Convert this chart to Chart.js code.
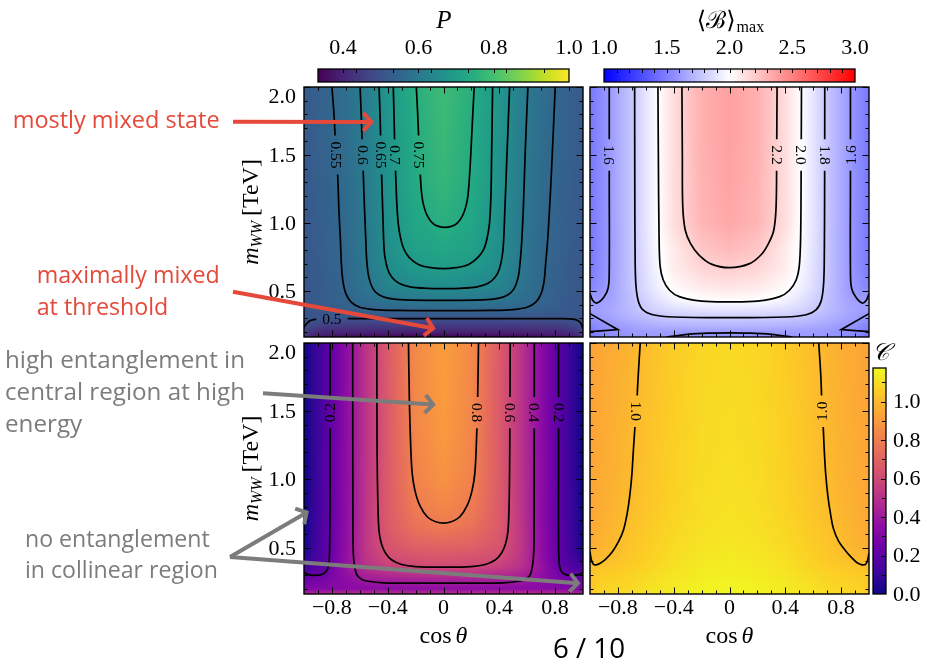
<!DOCTYPE html>
<html>
<head>
<meta charset="utf-8">
<script src="https://cdn.jsdelivr.net/npm/chart.js@4.4.1/dist/chart.umd.min.js"></script>
<style>
  html, body { margin: 0; padding: 0; background: #ffffff; }
  #stage { position: relative; width: 926px; height: 662px; overflow: hidden; background: #ffffff; }
  #stage canvas { position: absolute; left: 0; top: 0; }
</style>
</head>
<body>
<div id="stage"></div>
<script>
// ---------------------------------------------------------------------------
// Sampling grid shared by all four maps
// ---------------------------------------------------------------------------
const cosTheta = [-1, -0.95, -0.85, -0.7, -0.55, -0.4, -0.2, 0, 0.2, 0.4, 0.55, 0.7, 0.85, 0.95, 1];
const mWW = [0.161, 0.2, 0.25, 0.3, 0.36, 0.43, 0.52, 0.66, 0.8, 1.0, 1.3, 1.65, 2.0];

// Purity P (rows follow mWW, columns follow cosTheta)
const purity = [
  [0.44,0.40,0.37,0.355,0.35,0.345,0.34,0.338,0.34,0.345,0.35,0.355,0.37,0.40,0.44],
  [0.47,0.43,0.41,0.405,0.40,0.40,0.40,0.40,0.40,0.40,0.40,0.405,0.41,0.43,0.47],
  [0.51,0.48,0.46,0.455,0.452,0.45,0.45,0.45,0.45,0.45,0.452,0.455,0.46,0.48,0.51],
  [0.512,0.508,0.506,0.505,0.504,0.504,0.503,0.503,0.503,0.504,0.504,0.505,0.506,0.508,0.512],
  [0.512,0.514,0.52,0.532,0.542,0.547,0.55,0.552,0.55,0.547,0.542,0.532,0.52,0.514,0.512],
  [0.512,0.515,0.526,0.548,0.572,0.59,0.598,0.601,0.598,0.59,0.572,0.548,0.526,0.515,0.512],
  [0.512,0.517,0.529,0.553,0.59,0.625,0.643,0.651,0.643,0.625,0.59,0.553,0.529,0.517,0.512],
  [0.512,0.518,0.532,0.557,0.598,0.652,0.685,0.70,0.685,0.652,0.598,0.557,0.532,0.518,0.512],
  [0.513,0.52,0.534,0.559,0.602,0.66,0.71,0.727,0.71,0.66,0.602,0.559,0.534,0.52,0.513],
  [0.515,0.523,0.537,0.561,0.604,0.664,0.726,0.752,0.726,0.664,0.604,0.561,0.537,0.523,0.515],
  [0.518,0.526,0.54,0.566,0.609,0.671,0.74,0.77,0.74,0.671,0.609,0.566,0.54,0.526,0.518],
  [0.52,0.528,0.545,0.57,0.613,0.675,0.743,0.78,0.743,0.675,0.613,0.57,0.545,0.528,0.52],
  [0.52,0.527,0.542,0.575,0.618,0.68,0.75,0.787,0.75,0.68,0.618,0.575,0.542,0.527,0.52]
];

// Maximal Bell expectation <B>_max
const bellMax = [
  [1.45,1.50,1.55,1.59,1.61,1.585,1.57,1.565,1.57,1.585,1.61,1.59,1.55,1.50,1.45],
  [1.48,1.52,1.56,1.60,1.62,1.62,1.62,1.62,1.62,1.62,1.62,1.60,1.56,1.52,1.48],
  [1.52,1.55,1.60,1.65,1.69,1.71,1.72,1.72,1.72,1.71,1.69,1.65,1.60,1.55,1.52],
  [1.58,1.60,1.64,1.70,1.75,1.78,1.79,1.795,1.79,1.78,1.75,1.70,1.64,1.60,1.58],
  [1.63,1.62,1.66,1.74,1.82,1.87,1.89,1.90,1.89,1.87,1.82,1.74,1.66,1.62,1.63],
  [1.63,1.61,1.64,1.75,1.86,1.95,2.0,2.01,2.0,1.95,1.86,1.75,1.64,1.61,1.63],
  [1.52,1.56,1.62,1.77,1.91,2.02,2.08,2.10,2.08,2.02,1.91,1.77,1.62,1.56,1.52],
  [1.48,1.53,1.615,1.775,1.93,2.07,2.16,2.19,2.16,2.07,1.93,1.775,1.615,1.53,1.48],
  [1.47,1.52,1.613,1.775,1.945,2.08,2.22,2.27,2.22,2.08,1.945,1.775,1.613,1.52,1.47],
  [1.47,1.52,1.613,1.778,1.956,2.13,2.29,2.34,2.29,2.13,1.956,1.778,1.613,1.52,1.47],
  [1.47,1.52,1.613,1.778,1.956,2.131,2.30,2.36,2.30,2.131,1.956,1.778,1.613,1.52,1.47],
  [1.47,1.52,1.613,1.778,1.956,2.131,2.31,2.37,2.31,2.131,1.956,1.778,1.613,1.52,1.47],
  [1.47,1.52,1.613,1.778,1.956,2.131,2.31,2.37,2.31,2.131,1.956,1.778,1.613,1.52,1.47]
];

// Concurrence, lower-left map
const concurrenceLow = [
  [0.45,0.46,0.48,0.50,0.50,0.50,0.50,0.50,0.50,0.50,0.50,0.50,0.48,0.46,0.45],
  [0.30,0.31,0.32,0.33,0.34,0.345,0.35,0.35,0.35,0.345,0.34,0.33,0.32,0.31,0.30],
  [0.25,0.27,0.29,0.34,0.39,0.40,0.41,0.415,0.41,0.40,0.39,0.34,0.29,0.27,0.25],
  [0.20,0.22,0.26,0.36,0.44,0.47,0.49,0.50,0.49,0.47,0.44,0.36,0.26,0.22,0.20],
  [0.12,0.15,0.20,0.38,0.50,0.56,0.59,0.60,0.59,0.56,0.50,0.38,0.20,0.15,0.12],
  [0.05,0.10,0.19,0.36,0.52,0.61,0.64,0.65,0.64,0.61,0.52,0.36,0.19,0.10,0.05],
  [0.02,0.08,0.18,0.355,0.53,0.645,0.695,0.71,0.695,0.645,0.53,0.355,0.18,0.08,0.02],
  [0.0,0.07,0.175,0.35,0.525,0.665,0.76,0.79,0.76,0.665,0.525,0.35,0.175,0.07,0.0],
  [0.0,0.065,0.17,0.345,0.52,0.67,0.79,0.83,0.79,0.67,0.52,0.345,0.17,0.065,0.0],
  [0.0,0.06,0.167,0.343,0.518,0.67,0.815,0.87,0.815,0.67,0.518,0.343,0.167,0.06,0.0],
  [0.0,0.06,0.165,0.342,0.515,0.664,0.83,0.895,0.83,0.664,0.515,0.342,0.165,0.06,0.0],
  [0.0,0.06,0.165,0.342,0.515,0.665,0.835,0.905,0.835,0.665,0.515,0.342,0.165,0.06,0.0],
  [0.0,0.06,0.165,0.342,0.516,0.668,0.84,0.91,0.84,0.668,0.516,0.342,0.165,0.06,0.0]
];

// Concurrence, lower-right map
const concurrenceHigh = [
  [1.03,1.07,1.08,1.095,1.12,1.14,1.16,1.17,1.16,1.14,1.12,1.095,1.08,1.07,1.03],
  [1.035,1.065,1.075,1.09,1.115,1.135,1.155,1.165,1.155,1.135,1.115,1.09,1.075,1.065,1.035],
  [1.035,1.055,1.065,1.08,1.105,1.13,1.15,1.16,1.15,1.13,1.105,1.08,1.065,1.055,1.035],
  [1.03,1.045,1.055,1.07,1.095,1.12,1.14,1.15,1.14,1.12,1.095,1.07,1.055,1.045,1.03],
  [1.015,1.025,1.035,1.055,1.08,1.11,1.135,1.145,1.135,1.11,1.08,1.055,1.035,1.025,1.015],
  [0.99,0.995,1.01,1.04,1.07,1.10,1.125,1.135,1.125,1.10,1.07,1.04,1.01,0.995,0.99],
  [0.955,0.975,0.995,1.03,1.06,1.09,1.115,1.125,1.115,1.09,1.06,1.03,0.995,0.975,0.955],
  [0.945,0.96,0.985,1.02,1.05,1.08,1.105,1.115,1.105,1.08,1.05,1.02,0.985,0.96,0.945],
  [0.94,0.955,0.975,1.01,1.04,1.07,1.10,1.11,1.10,1.07,1.04,1.01,0.975,0.955,0.94],
  [0.94,0.95,0.97,1.0,1.035,1.065,1.095,1.105,1.095,1.065,1.035,1.0,0.97,0.95,0.94],
  [0.935,0.945,0.965,0.995,1.03,1.06,1.09,1.10,1.09,1.06,1.03,0.995,0.965,0.945,0.935],
  [0.93,0.94,0.96,0.99,1.025,1.055,1.085,1.095,1.085,1.055,1.025,0.99,0.96,0.94,0.93],
  [0.93,0.94,0.955,0.985,1.02,1.05,1.08,1.09,1.08,1.05,1.02,0.985,0.955,0.94,0.93]
];

// Iso-lines as [cosθ, mWW] polylines
const purityContours = [
  { level: 0.75, lines: [[[-0.195,2.0],[-0.185,1.8],[-0.175,1.55],[-0.165,1.33],[-0.155,1.2],[-0.14,1.12],[-0.115,1.05],[-0.075,0.995],[-0.03,0.973],[0.01,0.968],[0.05,0.973],[0.095,0.995],[0.135,1.05],[0.16,1.12],[0.175,1.2],[0.19,1.4],[0.205,1.7],[0.22,2.0]]] },
  { level: 0.7, lines: [[[-0.36,2.0],[-0.355,1.8],[-0.348,1.5],[-0.342,1.33],[-0.335,1.15],[-0.325,1.0],[-0.31,0.9],[-0.285,0.81],[-0.245,0.745],[-0.18,0.695],[-0.09,0.671],[0,0.664],[0.09,0.671],[0.18,0.695],[0.245,0.745],[0.29,0.81],[0.315,0.9],[0.33,1.0],[0.34,1.2],[0.345,1.5],[0.352,2.0]]] },
  { level: 0.65, lines: [[[-0.462,2.0],[-0.455,1.8],[-0.448,1.5],[-0.443,1.33],[-0.436,1.1],[-0.428,0.85],[-0.42,0.75],[-0.4,0.66],[-0.37,0.6],[-0.32,0.556],[-0.24,0.53],[-0.12,0.519],[0,0.517],[0.12,0.519],[0.24,0.53],[0.32,0.556],[0.37,0.6],[0.4,0.66],[0.42,0.75],[0.43,0.85],[0.44,1.1],[0.455,1.5],[0.474,2.0]]] },
  { level: 0.6, lines: [[[-0.598,2.0],[-0.59,1.8],[-0.58,1.5],[-0.574,1.33],[-0.566,1.1],[-0.556,0.85],[-0.55,0.72],[-0.535,0.6],[-0.505,0.515],[-0.46,0.47],[-0.39,0.445],[-0.28,0.434],[0,0.431],[0.28,0.434],[0.39,0.445],[0.46,0.47],[0.505,0.515],[0.535,0.6],[0.55,0.72],[0.56,0.85],[0.572,1.1],[0.585,1.5],[0.605,2.0]]] },
  { level: 0.55, lines: [[[-0.80,2.0],[-0.785,1.8],[-0.77,1.5],[-0.758,1.34],[-0.75,1.1],[-0.738,0.85],[-0.732,0.7],[-0.722,0.58],[-0.7,0.48],[-0.66,0.415],[-0.6,0.38],[-0.5,0.363],[-0.35,0.357],[0,0.355],[0.35,0.357],[0.5,0.363],[0.6,0.38],[0.66,0.415],[0.7,0.48],[0.722,0.58],[0.732,0.7],[0.745,0.85],[0.76,1.1],[0.775,1.4],[0.801,2.0]]] },
  { level: 0.5, lines: [[[-1.0,0.23],[-0.985,0.255],[-0.965,0.275],[-0.94,0.287],[-0.9,0.293],[-0.8,0.296],[-0.3,0.296],[0.3,0.296],[0.85,0.296],[0.93,0.292],[0.965,0.28],[0.985,0.26],[1.0,0.22]]] }
];
const purityLabels = [
  { text: '0.55', c: -0.77, m: 1.5, rot: 90 },
  { text: '0.6', c: -0.58, m: 1.5, rot: 90 },
  { text: '0.65', c: -0.448, m: 1.5, rot: 90 },
  { text: '0.7', c: -0.348, m: 1.5, rot: 90 },
  { text: '0.75', c: -0.173, m: 1.5, rot: 90 },
  { text: '0.5', c: -0.80, m: 0.296, rot: 0 }
];

const bellContours = [
  { level: 2.2, lines: [[[-0.341,2.0],[-0.338,1.5],[-0.335,1.12],[-0.317,0.946],[-0.28,0.85],[-0.22,0.765],[-0.13,0.697],[0,0.671],[0.14,0.699],[0.23,0.77],[0.285,0.86],[0.318,0.95],[0.334,1.12],[0.338,1.5],[0.341,2.0]]] },
  { level: 2.0, lines: [[[-0.513,2.0],[-0.51,1.5],[-0.505,0.9],[-0.497,0.68],[-0.475,0.58],[-0.43,0.505],[-0.36,0.458],[-0.2,0.425],[0,0.419],[0.2,0.425],[0.36,0.458],[0.43,0.505],[0.478,0.58],[0.5,0.68],[0.51,0.9],[0.514,1.5],[0.516,2.0]]] },
  { level: 1.8, lines: [[[-0.68,2.0],[-0.679,1.3],[-0.677,0.8],[-0.672,0.56],[-0.655,0.43],[-0.62,0.36],[-0.55,0.325],[-0.4,0.308],[0,0.303],[0.4,0.308],[0.55,0.325],[0.62,0.36],[0.658,0.43],[0.675,0.56],[0.68,0.8],[0.682,1.3],[0.683,2.0]]] },
  { level: 1.6, lines: [
      [[-0.862,2.0],[-0.862,1.3],[-0.862,0.65],[-0.87,0.52],[-0.9,0.455],[-0.95,0.411],[-0.98,0.43],[-1.0,0.48]],
      [[1.0,0.48],[0.98,0.43],[0.95,0.411],[0.905,0.455],[0.875,0.52],[0.867,0.65],[0.867,1.3],[0.867,2.0]],
      [[-0.45,0.161],[-0.3,0.181],[-0.15,0.19],[0,0.192],[0.15,0.19],[0.3,0.181],[0.45,0.161]]
  ] },
  { level: 1.6, straight: true, lines: [
      [[-1.0,0.333],[-0.80,0.215],[-1.0,0.20]],
      [[1.0,0.333],[0.80,0.215],[1.0,0.20]]
  ] }
];
const bellLabels = [
  { text: '1.6', c: -0.862, m: 1.5, rot: 90 },
  { text: '2.2', c: 0.338, m: 1.5, rot: 90 },
  { text: '2.0', c: 0.514, m: 1.5, rot: 90 },
  { text: '1.8', c: 0.682, m: 1.5, rot: 90 },
  { text: '1.6', c: 0.867, m: 1.5, rot: -90 }
];

const concurrenceLowContours = [
  { level: 0.8, lines: [[[-0.251,2.0],[-0.245,1.6],[-0.237,1.3],[-0.225,1.05],[-0.205,0.92],[-0.17,0.81],[-0.115,0.725],[-0.05,0.688],[0,0.681],[0.05,0.688],[0.115,0.725],[0.17,0.81],[0.205,0.92],[0.225,1.05],[0.237,1.3],[0.245,1.6],[0.251,2.0]]] },
  { level: 0.6, lines: [[[-0.478,2.0],[-0.476,1.2],[-0.47,0.8],[-0.462,0.62],[-0.445,0.53],[-0.415,0.46],[-0.37,0.41],[-0.3,0.377],[-0.2,0.362],[0,0.358],[0.2,0.362],[0.3,0.377],[0.37,0.41],[0.415,0.46],[0.445,0.53],[0.462,0.62],[0.47,0.8],[0.475,1.2],[0.478,2.0]]] },
  { level: 0.4, lines: [[[-0.651,2.0],[-0.65,1.0],[-0.648,0.5],[-0.641,0.39],[-0.622,0.303],[-0.59,0.27],[-0.55,0.256],[-0.43,0.243],[0,0.241],[0.43,0.243],[0.55,0.256],[0.59,0.27],[0.622,0.303],[0.641,0.39],[0.648,0.5],[0.65,1.0],[0.651,2.0]]] },
  { level: 0.2, lines: [
      [[-0.813,2.0],[-0.813,1.0],[-0.815,0.6],[-0.82,0.4],[-0.835,0.335],[-0.87,0.305],[-0.93,0.298],[-0.975,0.305],[-1.0,0.32]],
      [[1.0,0.32],[0.975,0.305],[0.93,0.298],[0.87,0.305],[0.84,0.335],[0.828,0.4],[0.825,0.6],[0.825,1.0],[0.825,2.0]]
  ] }
];
const concurrenceLowLabels = [
  { text: '0.2', c: -0.813, m: 1.49, rot: -90 },
  { text: '0.8', c: 0.243, m: 1.49, rot: 90 },
  { text: '0.6', c: 0.477, m: 1.49, rot: 90 },
  { text: '0.4', c: 0.651, m: 1.49, rot: 90 },
  { text: '0.2', c: 0.825, m: 1.49, rot: 90 }
];

const concurrenceHighContours = [
  { level: 1.0, lines: [
      [[-0.640,2.0],[-0.655,1.75],[-0.668,1.5],[-0.678,1.38],[-0.69,1.2],[-0.70,1.035],[-0.715,0.88],[-0.735,0.742],[-0.76,0.63],[-0.795,0.546],[-0.84,0.47],[-0.891,0.412],[-0.93,0.385],[-0.955,0.375],[-0.975,0.378],[-0.99,0.41],[-1.0,0.47]],
      [[1.0,0.46],[0.99,0.41],[0.975,0.378],[0.951,0.375],[0.915,0.39],[0.879,0.424],[0.83,0.48],[0.783,0.546],[0.745,0.64],[0.725,0.742],[0.705,0.88],[0.69,1.035],[0.68,1.2],[0.672,1.38],[0.664,1.5],[0.655,1.75],[0.64,2.0]]
  ] }
];
const concurrenceHighLabels = [
  { text: '1.0', c: -0.668, m: 1.5, rot: 90 },
  { text: '1.0', c: 0.664, m: 1.5, rot: -90 }
];

// Axis ticks
const xTickValues = [-0.8, -0.4, 0, 0.4, 0.8];
const xTickLabels = ['\u22120.8', '\u22120.4', '0', '0.4', '0.8'];
const yTickValues = [0.5, 1.0, 1.5, 2.0];
const yTickLabels = ['0.5', '1.0', '1.5', '2.0'];
const purityBarTicks = [0.4, 0.6, 0.8, 1.0];
const bellBarTicks = [1.0, 1.5, 2.0, 2.5, 3.0];
const concurrenceBarTicks = [0.0, 0.2, 0.4, 0.6, 0.8, 1.0];

// Colour ranges
const purityRange = [1 / 3, 1.0];
const bellRange = [1.0, 3.0];
const concurrenceRange = [0.0, 1.175];

// ---------------------------------------------------------------------------
// Colour maps
// ---------------------------------------------------------------------------
const VIRIDIS = [[68,1,84],[72,36,117],[65,68,135],[53,95,141],[42,120,142],[33,145,140],[34,168,132],[68,191,112],[122,209,81],[189,223,38],[253,231,37]];
const BWR = [[0,0,255],[255,255,255],[255,0,0]];
const PLASMA = [[13,8,135],[65,4,157],[106,0,168],[143,13,164],[177,42,144],[204,71,120],[225,100,98],[242,132,75],[252,166,54],[252,206,37],[240,249,33]];

function cmap(stops, t) {
  t = Math.max(0, Math.min(1, t));
  const n = stops.length - 1;
  const k = Math.min(n - 1, Math.floor(t * n));
  const f = t * n - k;
  const a = stops[k], b = stops[k + 1];
  return [a[0] + (b[0] - a[0]) * f, a[1] + (b[1] - a[1]) * f, a[2] + (b[2] - a[2]) * f];
}
function rgb(c) { return 'rgb(' + Math.round(c[0]) + ',' + Math.round(c[1]) + ',' + Math.round(c[2]) + ')'; }

function locate(arr, v) {
  const n = arr.length;
  if (v <= arr[0]) return [0, 0];
  if (v >= arr[n - 1]) return [n - 2, 1];
  let i = 0;
  while (arr[i + 1] < v) i++;
  return [i, (v - arr[i]) / (arr[i + 1] - arr[i])];
}
function sampleGrid(grid, c, m) {
  const [i, fx] = locate(cosTheta, c);
  const [j, fy] = locate(mWW, m);
  const a = grid[j][i], b = grid[j][i + 1], d = grid[j + 1][i], e = grid[j + 1][i + 1];
  return (a * (1 - fx) + b * fx) * (1 - fy) + (d * (1 - fx) + e * fx) * fy;
}

// ---------------------------------------------------------------------------
// Page and layers
// ---------------------------------------------------------------------------
const W = 926, H = 662;
const stage = document.getElementById('stage');
const SERIF = '"Liberation Serif", "DejaVu Serif", serif';
const SANS = '"Open Sans", "Noto Sans", "DejaVu Sans", sans-serif';

function layer() {
  const c = document.createElement('canvas');
  c.width = W; c.height = H;
  c.style.width = W + 'px'; c.style.height = H + 'px';
  stage.appendChild(c);
  return c;
}

function baseOptions(rect, xr, yr) {
  return {
    responsive: false,
    animation: false,
    devicePixelRatio: 1,
    events: [],
    layout: { padding: { left: rect.l, top: rect.t, right: W - rect.r, bottom: H - rect.b } },
    plugins: { legend: { display: false }, tooltip: { enabled: false }, title: { display: false } },
    scales: {
      x: { type: 'linear', min: xr[0], max: xr[1], display: false },
      y: { type: 'linear', min: yr[0], max: yr[1], display: false }
    }
  };
}

function tick(ctx, x0, y0, x1, y1) {
  ctx.beginPath(); ctx.moveTo(x0, y0); ctx.lineTo(x1, y1); ctx.stroke();
}

function drawYTitle(ctx, x, y) {
  ctx.save();
  ctx.translate(x, y);
  ctx.rotate(-Math.PI / 2);
  ctx.fillStyle = '#000';
  ctx.textBaseline = 'alphabetic';
  ctx.textAlign = 'left';
  const parts = [
    { t: 'm', f: 'italic 24px ' + SERIF, dy: 0 },
    { t: 'WW', f: 'italic 16px ' + SERIF, dy: 4 },
    { t: '\u2009[TeV]', f: '24px ' + SERIF, dy: 0 }
  ];
  let total = 0;
  parts.forEach(p => { ctx.font = p.f; p.w = ctx.measureText(p.t).width; total += p.w; });
  let cx = -total / 2;
  parts.forEach(p => { ctx.font = p.f; ctx.fillText(p.t, cx, p.dy); cx += p.w; });
  ctx.restore();
}

function drawXTitle(ctx, x, y) {
  ctx.save();
  ctx.fillStyle = '#000';
  ctx.textBaseline = 'alphabetic';
  ctx.textAlign = 'left';
  ctx.font = '24px ' + SERIF;
  const w1 = ctx.measureText('cos').width;
  ctx.font = 'italic 24px ' + SERIF;
  const w2 = ctx.measureText('\u03b8').width;
  const gap = 4;
  const x0 = x - (w1 + gap + w2) / 2;
  ctx.font = '24px ' + SERIF;
  ctx.fillText('cos', x0, y);
  ctx.font = 'italic 24px ' + SERIF;
  ctx.fillText('\u03b8', x0 + w1 + gap, y);
  ctx.restore();
}

// ---------------------------------------------------------------------------
// One map panel: heat map, iso-lines, labels, frame and ticks
// ---------------------------------------------------------------------------
function panel(cfg) {
  const canvas = layer();
  const datasets = [];
  cfg.contours.forEach(ct => ct.lines.forEach(line => datasets.push({
    data: line.map(p => ({ x: p[0], y: p[1] })),
    showLine: true,
    borderColor: '#000000',
    borderWidth: 1.7,
    pointRadius: 0,
    pointHoverRadius: 0,
    tension: ct.straight ? 0 : 0.35,
    fill: false,
    clip: 0
  })));

  let heat = null;
  const plugin = {
    id: 'mapPanel',
    beforeDatasetsDraw(chart) {
      const { left, top, right, bottom } = chart.chartArea;
      const w = Math.round(right - left), h = Math.round(bottom - top);
      heat = document.createElement('canvas');
      heat.width = w; heat.height = h;
      const hctx = heat.getContext('2d');
      const img = hctx.createImageData(w, h);
      const sx = chart.scales.x, sy = chart.scales.y;
      const lo = cfg.range[0], hi = cfg.range[1];
      for (let j = 0; j < h; j++) {
        const m = sy.getValueForPixel(top + j + 0.5);
        for (let i = 0; i < w; i++) {
          const c = sx.getValueForPixel(left + i + 0.5);
          const v = sampleGrid(cfg.grid, c, m);
          const col = cmap(cfg.stops, (v - lo) / (hi - lo));
          const k = (j * w + i) * 4;
          img.data[k] = col[0]; img.data[k + 1] = col[1]; img.data[k + 2] = col[2]; img.data[k + 3] = 255;
        }
      }
      hctx.putImageData(img, 0, 0);
      chart.ctx.drawImage(heat, left, top);
    },
    afterDatasetsDraw(chart) {
      const ctx = chart.ctx;
      const { left, top } = chart.chartArea;
      const sx = chart.scales.x, sy = chart.scales.y;
      ctx.save();
      ctx.font = '15.5px ' + SERIF;
      cfg.labels.forEach(lb => {
        const px = sx.getPixelForValue(lb.c), py = sy.getPixelForValue(lb.m);
        const tw = ctx.measureText(lb.text).width;
        // open a gap in the iso-line behind the label
        ctx.save();
        ctx.translate(px, py);
        ctx.rotate(lb.rot * Math.PI / 180);
        ctx.beginPath();
        ctx.rect(-tw / 2 - 6, -7, tw + 12, 14);
        ctx.restore();
        ctx.save();
        ctx.clip();
        ctx.drawImage(heat, left, top);
        ctx.restore();
        ctx.save();
        ctx.translate(px, py);
        ctx.rotate(lb.rot * Math.PI / 180);
        ctx.fillStyle = '#000';
        ctx.textAlign = 'center';
        ctx.textBaseline = 'middle';
        ctx.fillText(lb.text, 0, 1);
        ctx.restore();
      });
      ctx.restore();
    },
    afterDraw(chart) {
      const ctx = chart.ctx;
      const { left, top, right, bottom } = chart.chartArea;
      const sx = chart.scales.x, sy = chart.scales.y;
      ctx.save();
      ctx.strokeStyle = '#000';
      ctx.lineWidth = 1;
      // minor and major ticks on all four sides, pointing inwards
      for (let k = -9; k <= 9; k++) {
        const v = k / 10;
        const major = xTickValues.some(t => Math.abs(t - v) < 1e-6);
        const len = major ? 6.5 : 3.5;
        const px = Math.round(sx.getPixelForValue(v)) + 0.5;
        tick(ctx, px, bottom, px, bottom - len);
        tick(ctx, px, top, px, top + len);
      }
      for (let k = 2; k <= 20; k++) {
        const v = k / 10;
        const major = yTickValues.some(t => Math.abs(t - v) < 1e-6);
        const len = major ? 6.5 : 3.5;
        const py = Math.round(sy.getPixelForValue(v)) + 0.5;
        tick(ctx, left, py, left + len, py);
        tick(ctx, right, py, right - len, py);
      }
      ctx.lineWidth = 1.4;
      ctx.strokeRect(left, top, right - left, bottom - top);

      ctx.fillStyle = '#000';
      ctx.font = '22px ' + SERIF;
      if (cfg.yLabels) {
        ctx.textAlign = 'right';
        ctx.textBaseline = 'middle';
        yTickValues.forEach((v, i) => {
          const py = Math.max(sy.getPixelForValue(v), top + 9);
          ctx.fillText(yTickLabels[i], left - 8, py + 1);
        });
        drawYTitle(ctx, 258, (top + bottom) / 2);
      }
      if (cfg.xLabels) {
        ctx.font = '22px ' + SERIF;
        ctx.textAlign = 'center';
        ctx.textBaseline = 'middle';
        xTickValues.forEach((v, i) => {
          ctx.fillText(xTickLabels[i], sx.getPixelForValue(v), 608);
        });
        drawXTitle(ctx, (left + right) / 2, 643);
      }
      ctx.restore();
    }
  };

  const opts = baseOptions(cfg.rect, [-1, 1], [0.161, 2.0]);
  return new Chart(canvas, { type: 'scatter', data: { datasets }, options: opts, plugins: [plugin] });
}

// ---------------------------------------------------------------------------
// Colour bars
// ---------------------------------------------------------------------------
function colorBar(cfg) {
  const canvas = layer();
  const horizontal = cfg.horizontal;
  const plugin = {
    id: 'colourBar',
    afterDraw(chart) {
      const ctx = chart.ctx;
      const { left, top, right, bottom } = chart.chartArea;
      const s = horizontal ? chart.scales.x : chart.scales.y;
      const lo = cfg.range[0], hi = cfg.range[1];
      ctx.save();
      if (horizontal) {
        for (let x = Math.floor(left); x < right; x++) {
          const v = s.getValueForPixel(x + 0.5);
          ctx.fillStyle = rgb(cmap(cfg.stops, (v - lo) / (hi - lo)));
          ctx.fillRect(x, top, 1, bottom - top);
        }
      } else {
        for (let y = Math.floor(top); y < bottom; y++) {
          const v = s.getValueForPixel(y + 0.5);
          ctx.fillStyle = rgb(cmap(cfg.stops, (v - lo) / (hi - lo)));
          ctx.fillRect(left, y, right - left, 1);
        }
      }
      ctx.strokeStyle = '#000';
      ctx.lineWidth = 1;
      const step = cfg.minorStep;
      for (let v = lo; v <= hi + 1e-9; v += step) {
        const vv = Math.round(v * 1000) / 1000;
        if (vv <= lo + 1e-9 || vv >= hi - 1e-9) continue;
        if (horizontal) {
          const px = Math.round(s.getPixelForValue(vv)) + 0.5;
          tick(ctx, px, top, px, top + 4);
        } else {
          const py = Math.round(s.getPixelForValue(vv)) + 0.5;
          tick(ctx, right, py, right - 4, py);
        }
      }
      cfg.ticks.forEach(v => {
        if (v <= lo + 1e-9 || v >= hi - 1e-9) return;
        if (horizontal) {
          const px = Math.round(s.getPixelForValue(v)) + 0.5;
          tick(ctx, px, top, px, top + 4);
        } else {
          const py = Math.round(s.getPixelForValue(v)) + 0.5;
          tick(ctx, right, py, right - 5, py);
        }
      });
      ctx.lineWidth = 1.3;
      ctx.strokeRect(left, top, right - left, bottom - top);

      ctx.fillStyle = '#000';
      ctx.font = '22px ' + SERIF;
      ctx.textBaseline = 'middle';
      if (horizontal) {
        ctx.textAlign = 'center';
        cfg.ticks.forEach(v => ctx.fillText(v.toFixed(1), s.getPixelForValue(v), 48));
      } else {
        ctx.textAlign = 'left';
        cfg.ticks.forEach(v => ctx.fillText(v.toFixed(1), right + 7, s.getPixelForValue(v) + 1));
      }
      cfg.title(ctx, chart.chartArea);
      ctx.restore();
    }
  };
  const xr = horizontal ? cfg.range : [0, 1];
  const yr = horizontal ? [0, 1] : cfg.range;
  const opts = baseOptions(cfg.rect, xr, yr);
  return new Chart(canvas, { type: 'scatter', data: { datasets: [] }, options: opts, plugins: [plugin] });
}

// ---------------------------------------------------------------------------
// Build the figure
// ---------------------------------------------------------------------------
const pTL = panel({ rect: { l: 304, t: 87, r: 583, b: 337 }, grid: purity, stops: VIRIDIS, range: purityRange,
  contours: purityContours, labels: purityLabels, yLabels: true, xLabels: false });
const pTR = panel({ rect: { l: 590, t: 87, r: 869, b: 337 }, grid: bellMax, stops: BWR, range: bellRange,
  contours: bellContours, labels: bellLabels, yLabels: false, xLabels: false });
const pBL = panel({ rect: { l: 304, t: 343, r: 583, b: 594 }, grid: concurrenceLow, stops: PLASMA, range: concurrenceRange,
  contours: concurrenceLowContours, labels: concurrenceLowLabels, yLabels: true, xLabels: true });
const pBR = panel({ rect: { l: 590, t: 343, r: 869, b: 594 }, grid: concurrenceHigh, stops: PLASMA, range: concurrenceRange,
  contours: concurrenceHighContours, labels: concurrenceHighLabels, yLabels: false, xLabels: true });

colorBar({ rect: { l: 318, t: 69, r: 569, b: 82 }, horizontal: true, stops: VIRIDIS, range: purityRange,
  ticks: purityBarTicks, minorStep: 0.1,
  title(ctx) {
    ctx.font = 'italic 25px ' + SERIF; ctx.textAlign = 'center'; ctx.textBaseline = 'alphabetic';
    ctx.fillText('P', 444, 28);
  } });
colorBar({ rect: { l: 604, t: 69, r: 855, b: 82 }, horizontal: true, stops: BWR, range: bellRange,
  ticks: bellBarTicks, minorStep: 0.1,
  title(ctx) {
    ctx.textBaseline = 'alphabetic'; ctx.textAlign = 'left';
    ctx.font = '24px ' + SERIF;
    const main = '\u27e8\u212c\u27e9';
    const w1 = ctx.measureText(main).width;
    ctx.font = '16px ' + SERIF;
    const w2 = ctx.measureText('max').width;
    const x0 = 730 - (w1 + w2) / 2;
    ctx.font = '24px ' + SERIF;
    ctx.fillText(main, x0, 28);
    ctx.font = '16px ' + SERIF;
    ctx.fillText('max', x0 + w1 + 1, 32);
  } });
colorBar({ rect: { l: 873, t: 368, r: 886, b: 594 }, horizontal: false, stops: PLASMA, range: concurrenceRange,
  ticks: concurrenceBarTicks, minorStep: 0.1,
  title(ctx) {
    ctx.font = 'italic 24px ' + SERIF; ctx.textAlign = 'center'; ctx.textBaseline = 'alphabetic';
    ctx.fillText('\ud835\udc9e', 880, 360);
  } });

// ---------------------------------------------------------------------------
// Annotations and page number
// ---------------------------------------------------------------------------
(function annotate() {
  const ctx = layer().getContext('2d');
  const RED = '#e5493a';
  const GREY = '#7c7c7c';

  function at(chart, c, m) {
    return [chart.scales.x.getPixelForValue(c), chart.scales.y.getPixelForValue(m)];
  }
  function arrow(x0, y0, tip, color) {
    const [x1, y1] = tip;
    const ang = Math.atan2(y1 - y0, x1 - x0);
    ctx.save();
    ctx.strokeStyle = color;
    ctx.lineWidth = 4;
    ctx.lineCap = 'butt';
    ctx.lineJoin = 'miter';
    ctx.beginPath();
    ctx.moveTo(x0, y0);
    ctx.lineTo(x1 - Math.cos(ang) * 2, y1 - Math.sin(ang) * 2);
    ctx.stroke();
    const hl = 10, hw = 9;
    const bx = x1 - Math.cos(ang) * hl, by = y1 - Math.sin(ang) * hl;
    const nx = -Math.sin(ang), ny = Math.cos(ang);
    ctx.beginPath();
    ctx.moveTo(bx + nx * hw, by + ny * hw);
    ctx.lineTo(x1 - Math.cos(ang) * 2, y1 - Math.sin(ang) * 2);
    ctx.lineTo(bx - nx * hw, by - ny * hw);
    ctx.stroke();
    ctx.restore();
  }
  function block(lines, x, ys, color, widest, widestWidth) {
    ctx.save();
    ctx.font = '24px ' + SANS;
    const size = 24 * widestWidth / ctx.measureText(widest).width;
    ctx.font = size.toFixed(2) + 'px ' + SANS;
    ctx.fillStyle = color;
    ctx.textAlign = 'left';
    ctx.textBaseline = 'middle';
    lines.forEach((t, i) => ctx.fillText(t, x, ys[i]));
    ctx.restore();
  }

  block(['mostly mixed state'], 12.7, [121], RED, 'mostly mixed state', 207);
  block(['maximally mixed', 'at threshold'], 36.7, [276, 308], RED, 'maximally mixed', 183);
  block(['high entanglement in', 'central region at high', 'energy'], 5, [361, 393, 425], GREY, 'central region at high', 240);
  block(['no entanglement', 'in collinear region'], 25, [540, 571], GREY, 'in collinear region', 193);

  arrow(233, 121.7, at(pTL, -0.503, 1.743), RED);
  arrow(233, 291.7, at(pTL, -0.06, 0.223), RED);
  arrow(263, 393.3, at(pBL, -0.06, 1.548), GREY);
  arrow(230, 557, at(pBL, -0.969, 0.766), GREY);
  arrow(230, 557, at(pBL, 0.978, 0.239), GREY);

  ctx.save();
  ctx.fillStyle = '#000';
  ctx.font = '24px ' + SANS;
  const s = 24 * 72 / ctx.measureText('6 / 10').width;
  ctx.font = s.toFixed(2) + 'px ' + SANS;
  ctx.textAlign = 'center';
  ctx.textBaseline = 'middle';
  ctx.fillText('6 / 10', 589, 650);
  ctx.restore();
})();
</script>
</body>
</html>
